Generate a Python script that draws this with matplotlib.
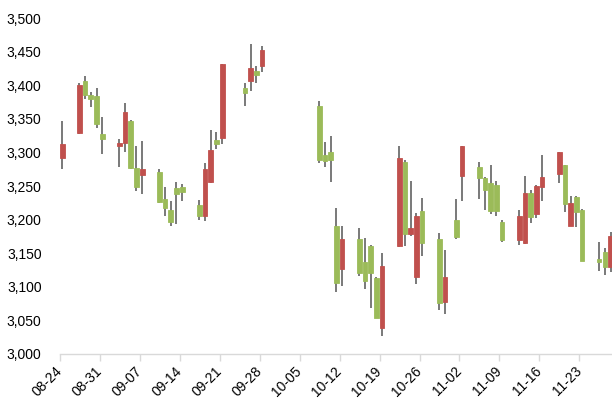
import numpy as np
import matplotlib
matplotlib.use("Agg")
import matplotlib.pyplot as plt

dates = ["2018-08-24", "2018-08-27", "2018-08-28", "2018-08-29", "2018-08-30", "2018-08-31",
         "2018-09-03", "2018-09-04", "2018-09-05", "2018-09-06", "2018-09-07",
         "2018-09-10", "2018-09-11", "2018-09-12", "2018-09-13", "2018-09-14",
         "2018-09-17", "2018-09-18", "2018-09-19", "2018-09-20", "2018-09-21",
         "2018-09-25", "2018-09-26", "2018-09-27", "2018-09-28",
         "2018-10-08", "2018-10-09", "2018-10-10", "2018-10-11", "2018-10-12",
         "2018-10-15", "2018-10-16", "2018-10-17", "2018-10-18", "2018-10-19",
         "2018-10-22", "2018-10-23", "2018-10-24", "2018-10-25", "2018-10-26",
         "2018-10-29", "2018-10-30", "2018-11-01", "2018-11-02",
         "2018-11-05", "2018-11-06", "2018-11-07", "2018-11-08", "2018-11-09",
         "2018-11-12", "2018-11-13", "2018-11-14", "2018-11-15", "2018-11-16",
         "2018-11-19", "2018-11-20", "2018-11-21", "2018-11-22", "2018-11-23",
         "2018-11-26", "2018-11-27", "2018-11-28"]

opens = [3291, 3329, 3406, 3385, 3384, 3328,
         3309, 3314, 3347, 3277, 3266,
         3271, 3231, 3215, 3247, 3248,
         3222, 3206, 3256, 3319, 3322,
         3396, 3406, 3421, 3428,
         3369, 3296, 3301, 3190, 3126,
         3171, 3137, 3161, 3113, 3039,
         3160, 3286, 3179, 3114, 3213,
         3171, 3078, 3200, 3265,
         3279, 3262, 3255, 3251, 3196,
         3170, 3165, 3239, 3209, 3249,
         3268, 3281, 3190, 3234, 3215,
         3142, 3152, 3130]

highs = [3347, 3403, 3414, 3390, 3396, 3353,
         3320, 3374, 3348, 3309, 3317,
         3275, 3248, 3228, 3256, 3253,
         3229, 3284, 3333, 3331, 3431,
         3403, 3461, 3429, 3459,
         3377, 3315, 3324, 3218, 3190,
         3187, 3173, 3162, 3114, 3151,
         3309, 3289, 3258, 3210, 3232,
         3180, 3155, 3231, 3309,
         3286, 3263, 3282, 3258, 3199,
         3214, 3265, 3244, 3251, 3296,
         3300, 3282, 3235, 3235, 3216,
         3167, 3158, 3182]

lows = [3275, 3328, 3380, 3367, 3337, 3298,
        3278, 3300, 3276, 3243, 3238,
        3224, 3205, 3190, 3194, 3228,
        3199, 3198, 3255, 3305, 3313,
        3369, 3391, 3403, 3419,
        3284, 3279, 3256, 3093, 3101,
        3116, 3096, 3069, 3053, 3027,
        3159, 3161, 3175, 3104, 3146,
        3065, 3060, 3171, 3228,
        3230, 3214, 3208, 3205, 3167,
        3162, 3164, 3195, 3203, 3227,
        3255, 3212, 3190, 3189, 3138,
        3124, 3117, 3122]

closes = [3312, 3401, 3386, 3379, 3342, 3320,
          3314, 3360, 3277, 3248, 3275,
          3226, 3218, 3196, 3238, 3241,
          3206, 3275, 3304, 3312, 3431,
          3388, 3426, 3415, 3452,
          3288, 3287, 3289, 3105, 3171,
          3120, 3109, 3120, 3054, 3131,
          3291, 3179, 3188, 3205, 3165,
          3076, 3115, 3174, 3309,
          3262, 3244, 3213, 3213, 3169,
          3205, 3239, 3204, 3250, 3263,
          3300, 3223, 3225, 3211, 3139,
          3137, 3130, 3176]

tick_labels = ["08-24", "08-31", "09-07", "09-14", "09-21", "09-28", "10-05",
               "10-12", "10-19", "10-26", "11-02", "11-09", "11-16", "11-23"]

UP = "#C0504D"
DOWN = "#9BBB59"

start = np.datetime64("2018-08-24")
x = (np.array(dates, dtype="datetime64[D]") - start).astype(float) + 0.45
o = np.array(opens, float)
h = np.array(highs, float)
l = np.array(lows, float)
c = np.array(closes, float)
cols = [UP if cc >= oo else DOWN for oo, cc in zip(o, c)]

plt.rcParams['font.family'] = ['Liberation Sans', 'DejaVu Sans']
fig = plt.figure(figsize=(6.12, 4.03), dpi=100)
ax = fig.add_axes([0.0975, 0.1216, 0.9025, 0.8337])

ax.vlines(x, l, h, color="#555555", lw=1.1, zorder=1)
bottoms = np.minimum(o, c)
heights = np.maximum(np.abs(c - o), 3)
ax.bar(x, heights, bottom=bottoms, width=0.82, color=cols, edgecolor=cols,
       linewidth=0.6, zorder=2)

ax.set_ylim(3000, 3500)
ax.set_yticks(np.arange(3000, 3501, 50))
ax.set_yticklabels([f"{v:,}" for v in range(3000, 3501, 50)])
ax.set_xlim(0, 96.7)
ticks = [7 * i for i in range(len(tick_labels))]
ax.set_xticks(ticks)
ax.set_xticklabels(tick_labels, rotation=45, ha="right", va="center",
                   rotation_mode="anchor")

for s in ["top", "right", "left"]:
    ax.spines[s].set_visible(False)
ax.spines["bottom"].set_color("#D9D9D9")
ax.spines["bottom"].set_linewidth(1)
ax.tick_params(axis="y", length=0, pad=13, labelsize=10, labelcolor="#000000")
ax.tick_params(axis="x", length=5, color="#D9D9D9", width=1, pad=6,
               labelsize=10, labelcolor="#000000")

fig.savefig("out.png", dpi=100)
